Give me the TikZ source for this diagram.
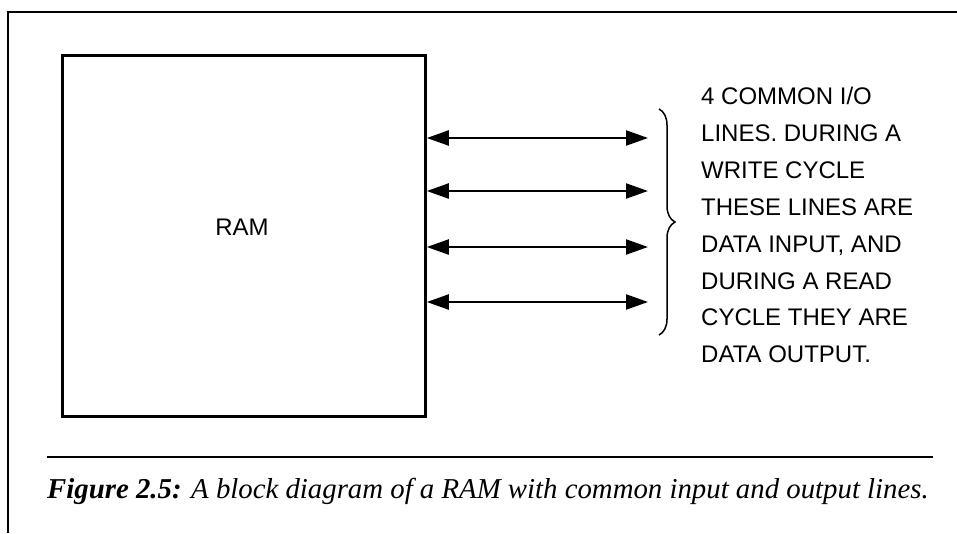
\documentclass[tikz,border=0pt]{standalone}
\usepackage{fontspec}
\setmainfont{Liberation Serif}
\setsansfont{Liberation Sans}
\usetikzlibrary{arrows.meta,decorations.pathreplacing}
\tikzset{
  io/.style={line width=2.2pt,{Triangle[length=22pt,width=15pt]}-{Triangle[length=22pt,width=15pt]}},
  note/.style={anchor=north west,inner sep=0,align=left,font=\sffamily\fontsize{24}{36.9}\selectfont}
}
\begin{document}
\begin{tikzpicture}[x=1pt,y=-1pt]
\useasboundingbox (0,0) rectangle (957,533);
\draw[line width=2.2pt] (8,533)--(8,12)--(957,12);
\node[draw,line width=2.8pt,minimum width=363pt,minimum height=361pt,anchor=north west,inner sep=0] (ram) at (61,54) {};
\node[font=\sffamily\fontsize{24}{28}\selectfont] (ramlbl) at (242,227) {RAM};
\foreach \y/\n in {138/1,191/2,247/3,302/4}{
  \coordinate (io\n) at (648,\y);
  \draw[io] (ram.east |- io\n) -- (io\n);
}
\draw[line width=1.5pt,decorate,decoration={brace,amplitude=16pt}] (659,109) -- (659,335);
\node[note] (iotext) at (701,87) {4 COMMON I/O\\LINES. DURING A\\WRITE CYCLE\\THESE LINES ARE\\DATA INPUT, AND\\DURING A READ\\CYCLE THEY ARE\\DATA OUTPUT.};
\draw[line width=2.2pt] (47,457) -- (933,457);
\node[anchor=base west,inner sep=0,font=\fontsize{28.8}{30}\selectfont\itshape] (caption) at (47,498) {\textbf{Figure 2.5:} A block diagram of a RAM with common input and output lines.};
\end{tikzpicture}
\end{document}
